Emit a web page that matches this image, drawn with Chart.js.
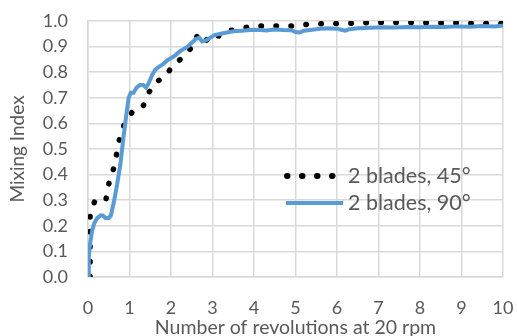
<!DOCTYPE html>
<html>
<head>
<meta charset="utf-8">
<script src="https://cdn.jsdelivr.net/npm/chart.js@4.4.1/dist/chart.umd.min.js"></script>
<style>
  html, body { margin: 0; padding: 0; background: #fff; }
  #wrap { width: 517px; height: 336px; }
</style>
</head>
<body>
<div id="wrap"><canvas id="main-chart" width="517" height="336"></canvas></div>
<script>
// series: 2 blades, 45 deg (dotted black)
const blades45_x = [0.05, 0.05, 0.17, 0.43, 0.51, 0.63, 0.69, 0.76, 0.88, 1.07, 1.31, 1.43, 1.61, 1.85,
    2.06, 2.31, 2.51, 2.62, 2.78, 2.98, 3.18, 3.34, 3.66, 3.97, 4.3, 4.6, 4.95, 5.3, 5.7, 6.0, 6.7, 7.1, 10];
const blades45_y = [0.0, 0.24, 0.30, 0.30, 0.37, 0.43, 0.48, 0.54, 0.60, 0.645, 0.66, 0.71, 0.76, 0.78,
    0.83, 0.86, 0.90, 0.94, 0.91, 0.95, 0.94, 0.96, 0.97, 0.98, 0.98, 0.98, 0.98, 0.987, 0.99, 0.99, 0.993, 0.995, 0.99];

// series: 2 blades, 90 deg (solid blue)
const blades90_x = [0, 0.02, 0.05, 0.1, 0.15, 0.22, 0.3, 0.36, 0.42, 0.5, 0.55, 0.62, 0.7, 0.78, 0.85, 0.92, 0.98,
    1.03, 1.1, 1.17, 1.25, 1.33, 1.4, 1.47, 1.55, 1.62, 1.7, 1.8, 1.9, 2.0, 2.1, 2.2, 2.3, 2.4, 2.5, 2.6, 2.68,
    2.75, 2.85, 2.95, 3.05, 3.2, 3.35, 3.5, 3.7, 3.9, 4.1, 4.3, 4.5, 4.7, 4.9, 5.0, 5.1, 5.2, 5.4, 5.6, 5.8,
    6.0, 6.1, 6.2, 6.3, 6.5, 6.8, 7.1, 7.4, 7.7, 8.0, 8.3, 8.6, 8.9, 9.2, 9.5, 9.8, 10];
const blades90_y = [0, 0.08, 0.13, 0.18, 0.21, 0.23, 0.24, 0.24, 0.23, 0.23, 0.24, 0.29, 0.36, 0.44, 0.54, 0.63, 0.70,
    0.72, 0.72, 0.74, 0.75, 0.75, 0.74, 0.76, 0.79, 0.81, 0.82, 0.83, 0.845, 0.855, 0.865, 0.88, 0.89, 0.90, 0.915, 0.93, 0.935,
    0.92, 0.925, 0.935, 0.945, 0.95, 0.955, 0.96, 0.962, 0.965, 0.966, 0.963, 0.967, 0.965, 0.964, 0.957, 0.955, 0.962, 0.966, 0.97, 0.972,
    0.97, 0.966, 0.962, 0.968, 0.972, 0.974, 0.976, 0.975, 0.977, 0.976, 0.978, 0.977, 0.979, 0.978, 0.98, 0.979, 0.982];

const series_labels = ["2 blades, 45\u00B0", "2 blades, 90\u00B0"];
const x_title = "Number of revolutions at 20 rpm";
const y_title = "Mixing Index";

const text_color = "#595959";
const grid_color = "#D9D9D9";
const blue = "#5B9BD5";
const font_family = "Lato, 'Open Sans', sans-serif";

function toPoints(xs, ys)
{
    let pts = [];
    for(let i = 0; i < xs.length; i++)
        pts.push({x: xs[i], y: ys[i]});
    return pts;
}

// legend drawn inside the plot, like the original
const insideLegend = {
    id: 'insideLegend',
    afterDraw(chart) {
        const ctx = chart.ctx;
        const lx = 286, ly1 = 176, ly2 = 203;
        ctx.save();
        ctx.lineCap = 'round';
        ctx.lineWidth = 6;
        ctx.strokeStyle = "#000000";
        ctx.setLineDash([0.5, 14.5]);
        ctx.beginPath();
        ctx.moveTo(lx + 1, ly1);
        ctx.lineTo(lx + 50, ly1);
        ctx.stroke();

        ctx.setLineDash([]);
        ctx.lineCap = 'butt';
        ctx.lineWidth = 4;
        ctx.strokeStyle = blue;
        ctx.beginPath();
        ctx.moveTo(lx, ly2);
        ctx.lineTo(lx + 57, ly2);
        ctx.stroke();

        ctx.fillStyle = text_color;
        ctx.font = "21.5px " + font_family;
        ctx.textBaseline = 'middle';
        ctx.textAlign = 'left';
        ctx.fillText(series_labels[0], 348, ly1);
        ctx.fillText(series_labels[1], 348, ly2);
        ctx.restore();
    }
};

const config = {
    type: 'scatter',
    data: {
        datasets: [
            {
                label: series_labels[0],
                data: toPoints(blades45_x, blades45_y),
                showLine: true,
                borderColor: "#000000",
                borderWidth: 5.5,
                borderDash: [0.5, 14.5],
                borderCapStyle: 'round',
                pointRadius: 0,
                tension: 0,
                order: 2
            },
            {
                label: series_labels[1],
                data: toPoints(blades90_x, blades90_y),
                showLine: true,
                borderColor: blue,
                borderWidth: 4,
                pointRadius: 0,
                tension: 0,
                order: 1
            }
        ]
    },
    options: {
        responsive: false,
        animation: false,
        layout: { padding: { top: 21, right: 14, bottom: 0, left: 0 } },
        plugins: {
            legend: { display: false },
            tooltip: { enabled: false }
        },
        scales: {
            x: {
                type: 'linear',
                min: 0,
                max: 10,
                ticks: {
                    stepSize: 1,
                    color: text_color,
                    font: { family: font_family, size: 18 },
                    padding: 20,
                    maxRotation: 0
                },
                grid: { color: grid_color, lineWidth: 1.5, drawTicks: false },
                border: { color: grid_color, width: 1.5 },
                title: {
                    display: true,
                    text: x_title,
                    color: text_color,
                    font: { family: font_family, size: 19.5 },
                    padding: { top: 0, bottom: -3 }
                },
                afterFit(scale) {
                    scale.height = 59;
                    scale.paddingLeft = 0;
                    scale.paddingRight = 0;
                }
            },
            y: {
                min: 0,
                max: 1,
                ticks: {
                    stepSize: 0.1,
                    color: text_color,
                    font: { family: font_family, size: 18 },
                    padding: 20,
                    callback: (v) => v.toFixed(1)
                },
                grid: { color: grid_color, lineWidth: 1.5, drawTicks: false },
                border: { color: grid_color, width: 1.5 },
                title: {
                    display: true,
                    text: y_title,
                    color: text_color,
                    font: { family: font_family, size: 19 },
                    padding: { top: 6, bottom: 0 }
                },
                afterFit(scale) {
                    scale.width = 88;
                    scale.paddingTop = 0;
                    scale.paddingBottom = 0;
                }
            }
        }
    },
    plugins: [insideLegend]
};

new Chart(document.getElementById("main-chart").getContext('2d'), config);
</script>
</body>
</html>
